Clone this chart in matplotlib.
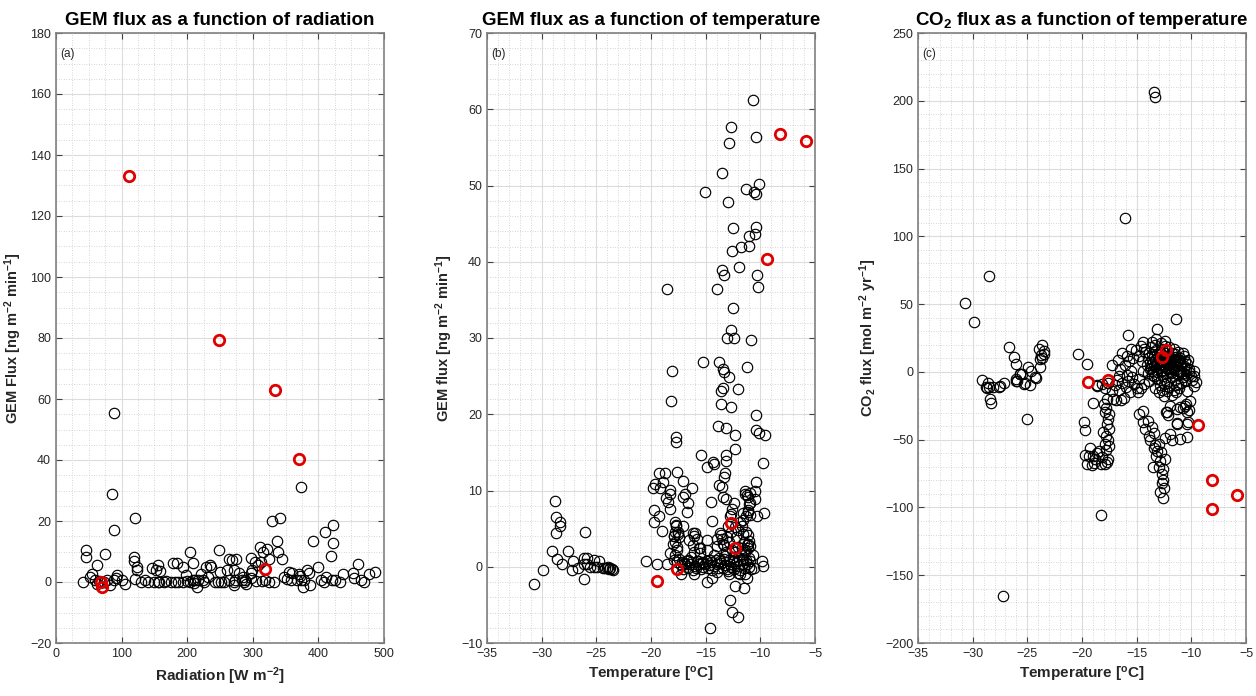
import numpy as np
import matplotlib
matplotlib.use("Agg")
import matplotlib.pyplot as plt
from matplotlib.ticker import MultipleLocator, AutoMinorLocator

plt.rcParams['font.family'] = ['Liberation Sans', 'DejaVu Sans']
plt.rcParams['mathtext.fontset'] = 'custom'
plt.rcParams['mathtext.rm'] = 'Liberation Sans:bold'
plt.rcParams['mathtext.default'] = 'rm'

# ---- (a) GEM flux vs radiation ----
rad_black = [
    (88, 55.5), (85, 29), (89, 17), (120.5, 21), (374, 31), (330, 20), (341, 21), (337, 13.5),
    (339, 10), (344, 7.4), (311, 11.5), (322, 10.7), (316, 10), (324, 7.5), (312, 6.5), (392, 13.5),
    (410, 16.4), (423, 18.6), (423, 12.9), (419, 8.4), (399, 5), (460, 6), (487, 3.4), (477, 2.5),
    (452, 3), (455, 1.4), (465, 0.8), (470, 0), (438, 2.7), (433, 0), (426, 0.5), (421, 0.5),
    (411, 1.6), (404, 0.5), (408, 0), (387, -1), (377, -1.8), (378, 0.5), (368, 0.5), (370, 2.7),
    (383, 3.8), (386, 3), (355, 3.2), (360, 3), (347, 1.8), (352, 1), (372, 2), (374, 0.5),
    (358, 0.5), (333, 0), (324, 0), (314, 0.2), (298, 7.8), (299, 3.8), (297, 3), (298, 1.3),
    (279, 3), (273, 0.5), (271, 0), (272, -1), (283, 0.5), (286, 0), (288, 0.5), (275, 7.6),
    (269, 7.3), (264, 7.4), (271, 3.8), (261, 4), (263, 0.5), (250, 3.3), (249, 10.6), (237, 5),
    (234, 5.5), (228, 5), (232, 1.6), (221, 2.5), (224, 0.5), (226, 0), (215, -1.6), (211, -0.3),
    (209, 0.5), (205, 0), (216, 0.5), (204, 9.8), (209, 6.3), (198, 2.4), (193, 5), (194, 0),
    (186, 0), (181, 0), (175, 0), (178, 6.3), (184, 6.3), (242, 0), (247, 0), (252, 0),
    (164, 0), (157, 0), (155, 0), (150, 0), (155, 5.7), (158, 3.6), (152, 3.8), (147, 4.7),
    (136, 0.5), (129, 0), (124, 5), (123, 3.8), (119, 8.2), (119, 6.9), (120.5, 1), (105, -0.5),
    (101, 0.5), (93, 2.4), (91, 1.3), (88, 0.5), (83, -1), (75, 9.3), (78, 0.5), (73, 0),
    (63, 5.5), (55, 2.5), (52, 1.6), (59, 0.5), (46, 10.4), (45, 8.2), (41, 0), (62.5, -0.5),
    (66, 0.3), (318, 0.5), (305, 0.3), (290, -0.5), (285, 1.8), (256, 0), (200, 0.3), (212, 0.8),
    (140, 0), (168, 0.2), (308, 5.5), (303, 6.5),
]
rad_red = [(112, 133), (248, 79.5), (334, 63), (370, 40.3), (319, 4.4), (68, 0), (70, -1.8)]

# ---- (b) GEM flux vs temperature ----
tgem_black = [
    (-10.63, 61.2), (-12.67, 57.7), (-10.39, 56.4), (-12.83, 55.6), (-13.5, 51.7), (-10.08, 50.2),
    (-11.33, 49.6), (-10.54, 49.2), (-10.39, 48.9), (-15.02, 49.1), (-13.0, 47.9), (-10.42, 44.6),
    (-12.52, 44.4), (-11.06, 43.4), (-10.45, 43.6), (-11.06, 42.1), (-11.79, 41.9), (-12.55, 41.4),
    (-11.97, 39.3), (-13.53, 38.9), (-13.28, 38.2), (-10.33, 38.2), (-10.24, 36.7), (-18.52, 36.4),
    (-13.92, 36.4), (-12.52, 33.9), (-12.67, 31.0), (-13.07, 30.0), (-12.43, 30.0), (-10.85, 29.8),
    (-15.2, 26.8), (-13.77, 26.8), (-13.46, 26.0), (-13.3, 25.6), (-12.9, 24.9), (-11.24, 26.2),
    (-18.1, 25.7), (-13.43, 23.5), (-13.62, 23.0), (-12.0, 23.3), (-18.16, 21.8), (-13.59, 21.4),
    (-12.7, 21.0), (-10.39, 19.9), (-13.9, 18.5), (-13.13, 18.2), (-10.39, 18.0), (-10.15, 17.6),
    (-9.54, 17.3), (-12.3, 17.3), (-17.7, 17.0), (-17.7, 16.3), (-12.3, 15.4), (-15.44, 14.6),
    (-13.13, 14.6), (-13.13, 13.9), (-14.35, 13.8), (-14.2, 13.5), (-14.9, 13.1), (-9.78, 13.6),
    (-13.2, 12.3), (-13.3, 11.8), (-17.64, 12.4), (-19.31, 12.3), (-18.76, 12.3), (-17.03, 11.3),
    (-10.42, 11.1), (-18.9, 11.1), (-19.6, 10.9), (-19.86, 10.3), (-19.2, 10.3), (-16.27, 10.3),
    (-13.74, 10.7), (-13.53, 10.4), (-11.4, 10.0), (-10.48, 9.9), (-18.3, 10.1), (-18.25, 9.6),
    (-11.4, 9.6), (-16.9, 9.6), (-17.05, 9.1), (-18.6, 9.0), (-13.4, 9.1), (-13.16, 8.9),
    (-10.48, 8.9), (-11.1, 9.1), (-18.4, 8.5), (-16.6, 8.3), (-14.5, 8.5), (-12.37, 8.3),
    (-10.94, 8.3), (-18.25, 7.6), (-19.7, 7.5), (-11.1, 7.4), (-11.55, 7.0), (-9.63, 7.0),
    (-12.67, 6.9), (-16.7, 7.2), (-19.3, 6.7), (-11.55, 6.1), (-10.3, 6.7), (-19.7, 5.9),
    (-14.4, 6.0), (-17.8, 5.9), (-17.7, 5.3), (-17.05, 5.3), (-11.64, 5.3), (-19.0, 4.7),
    (-17.8, 4.6), (-17.5, 4.6), (-16.2, 4.4), (-16.1, 4.0), (-13.7, 4.4), (-12.0, 4.8),
    (-11.55, 4.3), (-17.94, 4.0), (-17.4, 3.9), (-14.84, 3.5), (-16.5, 3.5), (-13.98, 3.7),
    (-13.07, 3.9), (-11.1, 3.0), (-18.0, 3.0), (-17.64, 2.2), (-18.25, 1.8), (-13.98, 2.7),
    (-14.9, 2.2), (-12.6, 2.2), (-11.4, 2.2), (-11.1, 2.4), (-16.1, 2.0), (-15.5, 2.4),
    (-13.4, 3.0), (-9.87, 0.7), (-9.78, 0.1), (-10.6, -0.1), (-20.44, 0.7), (-19.47, 0.4),
    (-18.5, 0.4), (-17.6, 0.65), (-17.24, -0.9), (-16.05, -0.9), (-14.9, -2.0), (-14.4, -1.5),
    (-12.9, -1.0), (-12.3, -2.5), (-11.5, -2.8), (-11.2, -1.5), (-11.85, -1.0), (-12.73, -4.3),
    (-12.55, -5.9), (-12.06, -6.6), (-14.56, -8.0),
    # left group
    (-28.8, 8.6), (-28.66, 6.5), (-28.36, 5.9), (-28.3, 5.3), (-28.72, 4.4), (-26.07, 4.6),
    (-29.1, 2.1), (-27.6, 2.1), (-28.57, 1.0), (-28.1, 0.4), (-27.1, 0.7), (-27.2, -0.4),
    (-29.85, -0.4), (-30.67, -2.2), (-26.17, -1.6), (-26.1, 1.2), (-25.86, 1.2), (-25.86, 0.4),
    (-25.56, 0.0), (-25.25, 0.0), (-25.2, 0.9), (-24.73, 0.8), (-24.95, 0.0), (-24.4, -0.1),
    (-24.0, -0.2), (-23.9, 0.0), (-23.73, -0.2), (-23.6, -0.35), (-23.5, -0.4), (-26.7, -0.1),
    (-26.17, 0.4), (-24.2, -0.1), (-23.8, -0.3),
    # dense band near zero
    (-17.3, 0.2), (-17.05, -0.3), (-16.85, 0.4), (-16.6, -0.1), (-16.45, 0.3), (-16.2, -0.4),
    (-16.0, 0.1), (-15.85, -0.2), (-15.6, 0.3), (-15.45, -0.3), (-15.2, 0.0), (-15.05, 0.4),
    (-14.8, -0.2), (-14.65, 0.2), (-14.4, -0.4), (-14.25, 0.1), (-14.0, 0.3), (-13.85, -0.2),
    (-13.6, 0.5), (-13.45, -0.1), (-13.2, 0.2), (-13.05, -0.3), (-12.8, 0.4), (-12.65, 0.0),
    (-12.4, -0.3), (-12.25, 0.5), (-12.0, 0.1), (-11.85, -0.4), (-11.6, 0.3), (-11.45, -0.1),
    (-11.2, 0.4), (-11.05, 0.0), (-10.85, -0.3), (-17.15, 0.6), (-16.7, 0.7), (-16.3, 0.6),
    (-15.7, 0.7), (-15.3, 0.5), (-14.9, 0.8), (-14.5, 0.6), (-14.1, 0.9), (-13.7, 0.8),
    (-13.3, 1.0), (-12.9, 0.9), (-12.5, 1.1), (-12.1, 0.8), (-11.7, 1.0), (-11.3, 0.9),
    (-10.95, 0.7), (-13.6, 4.2), (-13.5, 3.6), (-13.3, 2.8), (-13.1, 1.9), (-12.9, 3.3),
    (-12.7, 4.6), (-12.5, 1.3), (-12.2, 3.9), (-12.0, 2.6), (-11.8, 1.7), (-11.6, 0.9),
    (-11.4, 2.0), (-11.2, 2.9), (-11.0, 1.2), (-10.9, 2.7), (-11.1, 4.1), (-12.4, 0.8),
    (-13.8, 1.1), (-14.2, 1.6), (-14.6, 0.9), (-15.2, 0.6), (-15.8, 0.7), (-16.3, 1.3),
    (-16.6, 0.9), (-17.0, 0.5), (-12.8, 6.6), (-12.6, 7.6), (-13.0, 5.4), (-12.3, 5.2),
    (-11.9, 5.9), (-11.3, 6.6), (-11.1, 7.2), (-10.9, 6.8), (-11.0, 8.2), (-11.2, 9.4),
    (-10.9, 9.7), (-11.3, 4.6), (-11.5, 3.3), (-17.9, 4.0), (-17.8, 3.2), (-17.6, 2.6),
    (-17.8, 1.5), (-17.5, 4.3), (-17.7, 5.5), (-17.4, 1.0), (-17.9, 0.9), (-16.0, 4.4),
    (-15.8, 3.6), (-15.6, 2.5), (-16.2, 2.9), (-15.5, 1.8), (-13.2, 1.4), (-12.3, 1.9),
    (-11.7, 2.4), (-11.0, 3.4), (-10.7, 1.6), (-14.0, -0.7), (-13.0, -0.6), (-12.0, -0.8),
    (-11.4, -0.9),
]
tgem_red = [(-8.16, 56.8), (-5.85, 55.8), (-9.38, 40.3), (-12.64, 5.8), (-12.3, 2.5),
            (-17.64, -0.3), (-19.47, -1.9)]

# ---- (c) CO2 flux vs temperature ----
tco2_black = [
    # outliers and left group
    (-13.43, 206.8), (-13.31, 202.8), (-16.05, 113.6), (-11.42, 39.2), (-13.1, 31.3), (-15.8, 27),
    (-12.4, 23), (-30.67, 51), (-29.85, 37), (-28.54, 71.1), (-27.23, -165), (-18.25, -105.6),
    (-25.0, -34.7), (-28.4, -20), (-28.35, -23), (-29.15, -5.9), (-28.6, -8.3), (-28.8, -11.5),
    (-28.1, -11), (-27.5, -10.3), (-27.1, -8.3), (-26.2, 11), (-26.0, 6), (-26.05, -6.6),
    (-25.7, -1.7), (-25.5, -1.2), (-25.2, -8.3), (-24.8, -9.5), (-24.9, 3.7), (-24.67, 0.7),
    (-24.2, -4.2), (-23.8, 3.7), (-23.67, 10.5), (-23.45, 13), (-26.65, 18.4), (-28.5, -11),
    (-28.7, -12), (-27.6, -11), (-26.04, -4.9), (-25.95, -6.6), (-25.64, -1.2), (-25.27, -8.6),
    (-24.27, -3.7), (-23.75, 12.3), (-23.96, 17.2), (-23.66, 19.6), (-23.5, 15.4), (-23.87, 9.3),
    (-20.4, 13.4), (-19.5, 6.1),
    # left falling branch
    (-19.86, -37.2), (-19.72, -42.5), (-19.0, -23), (-19.7, -61), (-19.4, -62), (-18.8, -64),
    (-19.25, -56), (-19.1, -69), (-18.3, -68), (-17.7, -66.5), (-17.8, -57.5), (-17.6, -50),
    (-18.05, -44.5), (-17.7, -38.4), (-17.5, -31), (-17.9, -29.3), (-18.0, -23.7), (-18.65, -10.3),
    (-17.3, 5.1), (-19.5, -68), (-19.0, -62), (-18.6, -60), (-18.2, -63), (-17.9, -68),
    (-17.6, -64), (-18.9, -67), (-18.4, -58), (-17.8, -47), (-17.55, -42), (-17.65, -35),
    (-17.8, -27), (-17.7, -20), (-17.5, -55), (-17.9, -53),
    # middle branch near -17..-15
    (-18.6, -10), (-18.2, -9), (-17.9, -12), (-17.6, -8), (-17.3, -14), (-17.0, -10), (-16.8, -6),
    (-16.6, -13), (-16.4, -21), (-16.2, -19), (-16.0, -11), (-15.8, -7), (-15.6, -15), (-15.4, -4),
    (-15.2, -9), (-15.0, -12), (-16.9, -21), (-17.2, -20), (-16.6, -3), (-16.3, -8), (-15.9, -2),
    (-15.5, 1), (-14.8, -5), (-14.6, -12), (-14.9, -15), (-16.5, 2), (-16.1, 5), (-15.7, 8),
    (-15.9, 12), (-16.3, 14), (-15.5, 17), (-15.1, 16), (-14.8, 12), (-14.6, 19), (-14.4, 22),
    (-14.2, 15), (-15.3, 10), (-16.7, 9),
    # dense core
    (-14.1, 5), (-14.0, 10), (-13.9, 14), (-13.8, 2), (-13.7, 18), (-13.6, -2), (-13.5, 7),
    (-13.4, 12), (-13.3, 20), (-13.2, 4), (-13.1, -5), (-13.0, 9), (-12.9, 15), (-12.8, 1),
    (-12.7, 6), (-12.6, -3), (-12.5, 12), (-12.4, 8), (-12.3, 3), (-12.2, -8), (-12.1, 10),
    (-12.0, 5), (-11.9, -1), (-11.8, 14), (-11.7, 7), (-11.6, 2), (-11.5, -6), (-11.4, 11),
    (-11.3, 4), (-11.2, -2), (-11.1, 9), (-11.0, 6), (-10.9, 1), (-10.8, -4), (-10.7, 12),
    (-10.6, 8), (-10.5, 3), (-14.0, -1), (-13.8, 7), (-13.6, 13), (-13.5, 1), (-13.3, 9),
    (-13.2, 16), (-13.1, 0), (-12.9, 11), (-12.8, -6), (-12.7, 17), (-12.6, 4), (-12.5, -9),
    (-12.4, 14), (-12.3, -1), (-12.2, 7), (-12.1, 2), (-12.0, 12), (-11.9, 8), (-11.8, -4),
    (-11.7, 3), (-11.6, 9), (-11.5, 13), (-11.4, -10), (-11.3, 7), (-11.2, 1), (-11.1, -12),
    (-11.0, 10), (-10.9, 5), (-10.8, -1), (-10.7, 4), (-10.6, -6), (-13.9, -7), (-13.7, 3),
    (-13.4, -3), (-13.3, -12), (-13.0, -15), (-12.9, -10), (-12.7, -13), (-12.5, -18), (-12.4, -6),
    (-12.2, -14), (-12.0, -11), (-11.8, -17), (-11.6, -13), (-11.4, -15), (-11.2, -9), (-13.6, 22),
    (-13.2, 24), (-12.8, 21), (-12.4, 19), (-12.0, 18), (-11.6, 17), (-11.2, 15), (-10.8, 14),
    (-14.3, -9), (-14.4, 1), (-14.5, 8), (-14.3, 17), (-13.0, 3), (-12.8, 8), (-12.6, 10),
    (-12.3, 12), (-12.1, 6), (-11.9, 3), (-11.7, 11), (-11.5, 5), (-11.3, -1), (-11.0, 0),
    (-10.9, -8), (-10.5, -2), (-10.4, 6), (-10.3, 9), (-10.2, 0), (-13.4, 4), (-13.1, 13),
    (-12.85, 5), (-12.55, 7), (-12.25, 9), (-11.95, 0), (-12.75, 13), (-13.25, 6),
    # right edge
    (-10.2, 2), (-10.0, -3), (-9.9, -6), (-9.75, -10.3), (-9.56, -7.8), (-9.8, -2.9), (-9.75, 0.7),
    (-10.57, -6.6), (-10.1, -21.3), (-10.4, -14.4), (-10.6, -25), (-10.8, -27), (-10.45, -24),
    # lower branches
    (-12.2, -29.4), (-12.16, -31.9), (-11.98, -25), (-11.3, -27.5), (-11.0, -26.2), (-11.3, -38.5),
    (-10.4, -38.5), (-12.4, -48.6), (-11.94, -45.6), (-11.8, -50), (-11.0, -49.4), (-10.4, -47.7),
    (-11.3, -37.8), (-10.33, -37.2), (-10.4, -29.8), (-10.2, -28), (-12.35, -29.3),
    (-14.8, -31), (-14.44, -28.6), (-14.44, -37.2), (-13.6, -40.3), (-13.45, -45.2), (-13.77, -50.6),
    (-13.45, -56), (-13.16, -58), (-13.55, -70), (-13.0, -70), (-12.7, -75.5), (-12.6, -79.5),
    (-12.5, -85.8), (-12.9, -88.5), (-12.55, -93), (-12.4, -64), (-12.77, -59), (-13.3, -54),
    (-13.2, -62), (-12.9, -66), (-13.0, -53), (-14.0, -36), (-14.2, -42), (-13.9, -47),
    (-12.6, -72), (-12.7, -82),
]
tco2_red = [(-19.45, -7.1), (-17.62, -6.1), (-12.68, 11), (-12.32, 15.9), (-9.41, -38.9),
            (-8.13, -79.5), (-8.13, -101), (-5.85, -90.5)]

titles = ['GEM flux as a function of radiation',
          'GEM flux as a function of temperature',
          'CO$_2$ flux as a function of temperature']
xlabels = ['Radiation [W m$^{-2}$]', 'Temperature [$^{o}$C]', 'Temperature [$^{o}$C]']
ylabels = ['GEM Flux [ng m$^{-2}$ min$^{-1}$]', 'GEM flux [ng m$^{-2}$ min$^{-1}$]',
           'CO$_2$ flux [mol m$^{-2}$ yr$^{-1}$]']
tags = ['(a)', '(b)', '(c)']

FIG_W, FIG_H = 1256, 696
fig = plt.figure(figsize=(FIG_W / 100, FIG_H / 100), dpi=100)

panels = [
    dict(black=rad_black, red=rad_red, left=56, xlim=(0, 500), ylim=(-20, 180),
         xmaj=100, ymaj=20, xmin=4, ymin=4),
    dict(black=tgem_black, red=tgem_red, left=487, xlim=(-35, -5), ylim=(-10, 70),
         xmaj=5, ymaj=10, xmin=5, ymin=5),
    dict(black=tco2_black, red=tco2_red, left=918, xlim=(-35, -5), ylim=(-200, 250),
         xmaj=5, ymaj=50, xmin=5, ymin=5),
]

edge = '#808080'
for i, p in enumerate(panels):
    ax = fig.add_axes([p['left'] / FIG_W, 53 / FIG_H, 328 / FIG_W, 610 / FIG_H])
    bx, by = np.array(p['black']).T
    rx, ry = np.array(p['red']).T
    ax.plot(bx, by, 'o', ms=7.5, mfc='none', mec='black', mew=0.85, zorder=3)
    ax.plot(rx, ry, 'o', ms=7.5, mfc='none', mec='#e00000', mew=2.0, zorder=4)

    ax.set_xlim(*p['xlim'])
    ax.set_ylim(*p['ylim'])
    ax.xaxis.set_major_locator(MultipleLocator(p['xmaj']))
    ax.yaxis.set_major_locator(MultipleLocator(p['ymaj']))
    ax.xaxis.set_minor_locator(AutoMinorLocator(p['xmin']))
    ax.yaxis.set_minor_locator(AutoMinorLocator(p['ymin']))
    ax.grid(which='major', color='#dcdcdc', lw=0.8, zorder=0)
    ax.grid(which='minor', color='#c8c8c8', lw=0.6, ls=(0, (1, 2)), zorder=0)
    ax.set_axisbelow(True)
    ax.tick_params(which='major', direction='in', length=4, width=0.8, color='#404040',
                   top=True, right=True, labelsize=9, labelcolor='#262626')
    ax.tick_params(which='minor', length=0, top=True, right=True)
    for s in ax.spines.values():
        s.set_color(edge)
        s.set_linewidth(1.2)

    ax.set_title(titles[i], fontsize=13.5, fontweight='bold', pad=6)
    ax.set_xlabel(xlabels[i], fontsize=11, fontweight='bold', color='#262626')
    ax.set_ylabel(ylabels[i], fontsize=10.5, fontweight='bold', color='#262626')
    ax.text(0.012, 0.965, tags[i], transform=ax.transAxes, fontsize=8.5, va='center',
            color='#262626')

fig.savefig('out.png', dpi=100)
